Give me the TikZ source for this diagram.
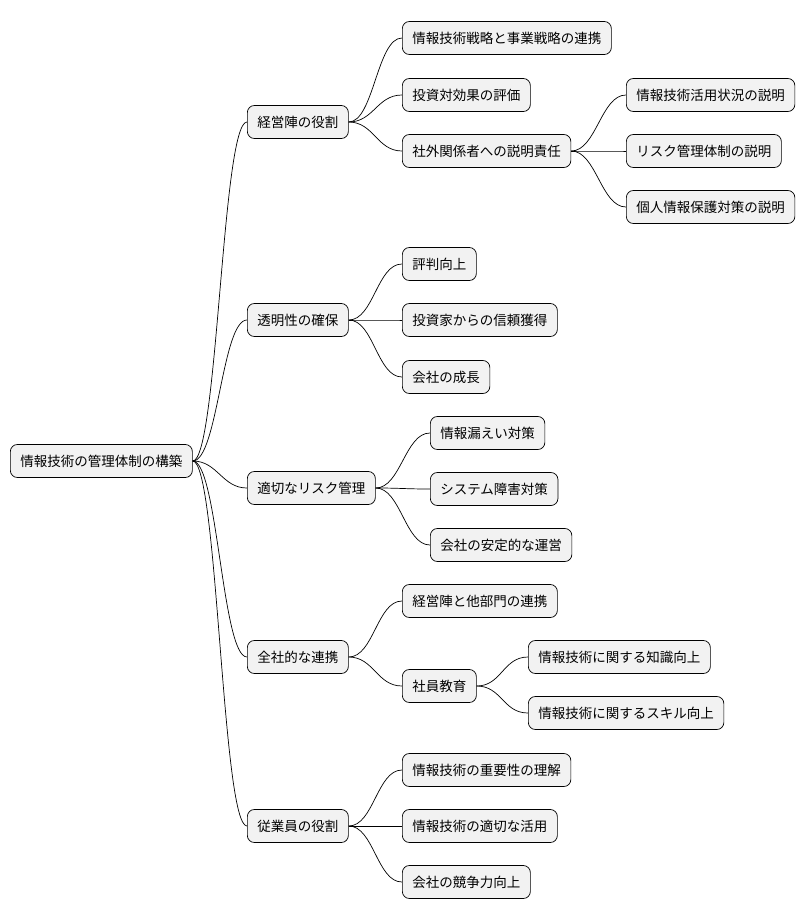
\documentclass[tikz,border=0pt]{standalone}
\usepackage{fontspec}
\setmainfont{Noto Sans CJK JP}
\begin{document}
\begin{tikzpicture}[x=1pt,y=-1pt,
    box/.style={draw, fill=gray!10, rounded corners=7pt, anchor=west, minimum height=33pt,
        inner xsep=10pt, font=\fontsize{13.5}{16}\selectfont, line width=0.7pt},
    link/.style={line width=0.7pt}]
    \useasboundingbox (0,0) rectangle (810,921);

    \node[box] (root) at (10, 461) {情報技術の管理体制の構築};

    \node[box] (keiei) at (247, 122) {経営陣の役割};
    \node[box] (tomei) at (247, 320) {透明性の確保};
    \node[box] (risk) at (247, 488) {適切なリスク管理};
    \node[box] (zensha) at (247, 657) {全社的な連携};
    \node[box] (jugyo) at (247, 826) {従業員の役割};

    \node[box] (senryaku) at (402, 38) {情報技術戦略と事業戦略の連携};
    \node[box] (toushi) at (402, 95) {投資対効果の評価};
    \node[box] (setsumei) at (402, 151) {社外関係者への説明責任};
    \node[box] (katsuyo) at (626, 95) {情報技術活用状況の説明};
    \node[box] (kanri) at (626, 151) {リスク管理体制の説明};
    \node[box] (kojin) at (626, 207) {個人情報保護対策の説明};

    \node[box] (hyoban) at (402, 264) {評判向上};
    \node[box] (shinrai) at (402, 320) {投資家からの信頼獲得};
    \node[box] (seicho) at (402, 377) {会社の成長};

    \node[box] (roei) at (430, 433) {情報漏えい対策};
    \node[box] (shogai) at (430, 489) {システム障害対策};
    \node[box] (antei) at (430, 545) {会社の安定的な運営};

    \node[box] (bumon) at (402, 601) {経営陣と他部門の連携};
    \node[box] (kyoiku) at (402, 686) {社員教育};
    \node[box] (chishiki) at (528, 657) {情報技術に関する知識向上};
    \node[box] (skill) at (528, 713) {情報技術に関するスキル向上};

    \node[box] (juyo) at (402, 770) {情報技術の重要性の理解};
    \node[box] (tekisetsu) at (402, 826) {情報技術の適切な活用};
    \node[box] (kyoso) at (402, 882) {会社の競争力向上};

    \foreach \a/\b in {root/keiei, root/tomei, root/risk, root/zensha, root/jugyo,
        keiei/senryaku, keiei/toushi, keiei/setsumei,
        setsumei/katsuyo, setsumei/kanri, setsumei/kojin,
        tomei/hyoban, tomei/shinrai, tomei/seicho,
        risk/roei, risk/shogai, risk/antei,
        zensha/bumon, zensha/kyoiku, kyoiku/chishiki, kyoiku/skill,
        jugyo/juyo, jugyo/tekisetsu, jugyo/kyoso}
        \draw[link] (\a.east) .. controls +(25,0) and +(-25,0) .. (\b.west);
\end{tikzpicture}
\end{document}
